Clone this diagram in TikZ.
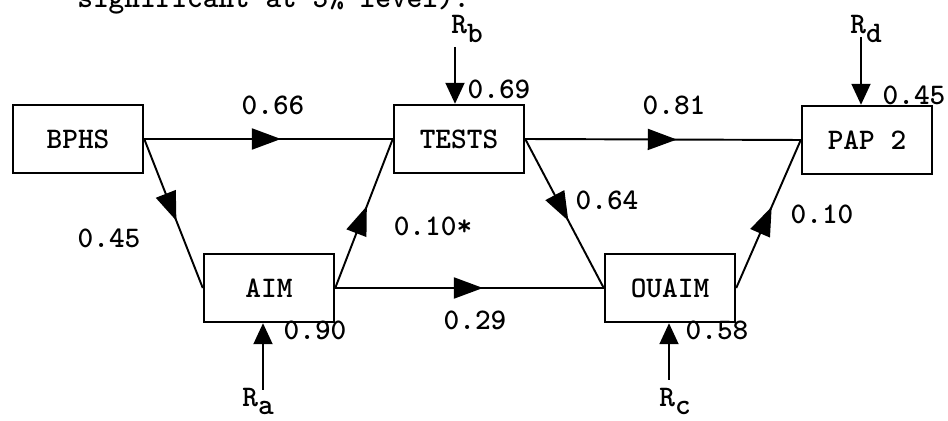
\documentclass[tikz,border=0pt]{standalone}
\usepackage{tikz}
\usetikzlibrary{arrows.meta, decorations.markings}

\newcommand{\lblfont}{\fontsize{17}{20}\selectfont\ttfamily\bfseries}
\newcommand{\rsub}[1]{\raisebox{-1.7mm}{\bfseries #1}}

\begin{document}
\begin{tikzpicture}[
    x=0.2mm, y=-0.2mm,
    every node/.style={font=\lblfont},
    nd/.style={draw, line width=1.4pt, minimum width=26mm, minimum height=13.6mm, inner sep=0pt},
    arr/.style={line width=1.1pt, postaction={decorate},
        decoration={markings, mark=at position #1 with {\arrow{Triangle[length=5.8mm, width=4.2mm]}}}},
    arr/.default=0.55,
    res/.style={line width=1.1pt, -{Triangle[length=4.2mm, width=3.8mm]}},
    coef/.style={inner sep=0pt},
    rlab/.style={inner sep=0pt, anchor=base west},
]
\useasboundingbox (0,0) rectangle (948,421);

% Caption (cut off at the top)
\node[coef, anchor=base west] (cap) at (77,8) {significant at 5\% level).};

% Top row
\node[nd] (BPHS) at (78,139) {BPHS};
\node[nd] (TESTS) at (459,139) {TESTS};
\node[nd] (PAP) at (867,140) {PAP 2};

% Bottom row
\node[nd] (AIM) at (269,288) {AIM};
\node[nd] (OUAIM) at (670,288) {OUAIM};

% Residuals
\node[rlab] (Rb) at (451,34) {R\rsub{b}};
\node[rlab] (Rd) at (850,34) {R\rsub{d}};
\node[rlab] (Ra) at (242,406) {R\rsub{a}};
\node[rlab] (Rc) at (659,406) {R\rsub{c}};
\coordinate (rb) at (455,47);
\coordinate (rd) at (861,37);
\coordinate (ra) at (263,390);
\coordinate (rc) at (669,380);

% === ARROWS ===
\draw[arr] (BPHS.east) -- (TESTS.west);
\draw[arr] (TESTS.east) -- (PAP.west);
\draw[arr] (AIM.east) -- (OUAIM.west);
\draw[arr] (BPHS.east) -- (AIM.west);
\draw[arr] (AIM.east) -- (TESTS.west);
\draw[arr] (TESTS.east) -- (OUAIM.west);
\draw[arr] (OUAIM.east) -- (PAP.west);

% residual arrows
\draw[res] (rb) -- (rb |- TESTS.north);
\draw[res] (rd) -- (rd |- PAP.north);
\draw[res] (ra) -- (ra |- AIM.south);
\draw[res] (rc) -- (rc |- OUAIM.south);

% === COEFFICIENTS ===
\node[coef] (c66) at (273,105) {0.66};
\node[coef] (c81) at (674,105) {0.81};
\node[coef] (c45) at (109,238) {0.45};
\node[coef] (c10s) at (433,226) {0.10*};
\node[coef] (c64) at (607,200) {0.64};
\node[coef] (c10) at (822,214) {0.10};
\node[coef] (c29) at (475,320) {0.29};
\node[coef] (c90) at (315,330) {0.90};
\node[coef] (c58) at (717,330) {0.58};
\node[coef] (c69) at (499,89) {0.69};
\node[coef] (c45r) at (914,95) {0.45};

\end{tikzpicture}
\end{document}
